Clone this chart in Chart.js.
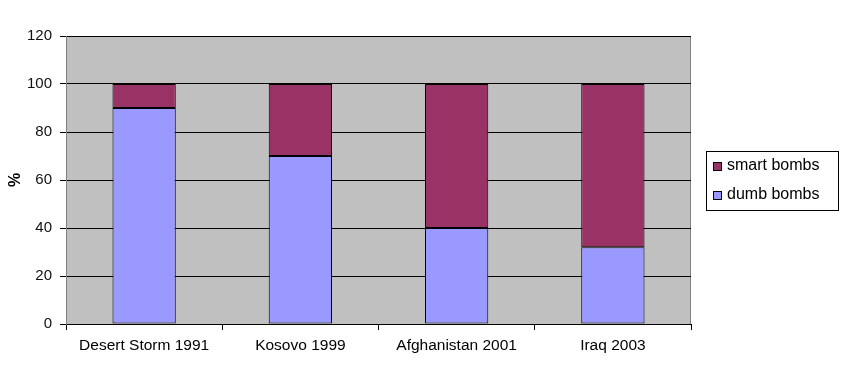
<!DOCTYPE html>
<html lang="en">
  <head>
    <meta charset="UTF-8" />
    <script src="https://cdn.jsdelivr.net/npm/chart.js@4/dist/chart.umd.min.js"></script>
    <title>Smart vs dumb bombs</title>
    <style>
      body { margin: 0; background: #fff; }
      #wrap { width: 850px; height: 387px; }
    </style>
  </head>
  <body>
    <div id="wrap">
      <canvas id="myChart" width="850" height="387"></canvas>
    </div>
    <script>
      const conflicts = ["Desert Storm 1991", "Kosovo 1999", "Afghanistan 2001", "Iraq 2003"];
      const dumbBombs = [90, 70, 40, 32];
      const smartBombs = [10, 30, 60, 68];
      const yTicks = [0, 20, 40, 60, 80, 100, 120];

      const FONT = "'Liberation Sans', Arial, sans-serif";

      // grey plot area with a grey frame, like the old Excel charts
      const plotArea = {
        id: "plotArea",
        beforeDraw(chart) {
          const a = chart.chartArea;
          const ctx = chart.ctx;
          ctx.save();
          ctx.fillStyle = "#c0c0c0";
          ctx.fillRect(a.left, a.top, a.right - a.left, a.bottom - a.top);
          ctx.strokeStyle = "#808080";
          ctx.lineWidth = 1;
          ctx.strokeRect(a.left + 0.5, a.top + 0.5, a.right - a.left - 1, a.bottom - a.top);
          ctx.restore();
        },
      };

      // boxed legend on the right
      const boxLegend = {
        id: "boxLegend",
        afterDraw(chart) {
          const ctx = chart.ctx;
          const x = 706, y = 151, w = 132, h = 59;
          ctx.save();
          ctx.fillStyle = "#fff";
          ctx.fillRect(x, y, w, h);
          ctx.strokeStyle = "#000";
          ctx.lineWidth = 1;
          ctx.strokeRect(x + 0.5, y + 0.5, w, h);
          const items = chart.data.datasets.slice().reverse();
          ctx.font = "16px " + FONT;
          ctx.textBaseline = "middle";
          items.forEach((ds, i) => {
            const cy = y + 15 + i * 29;
            ctx.fillStyle = ds.backgroundColor;
            ctx.fillRect(x + 7, cy - 4, 9, 9);
            ctx.strokeStyle = "#000";
            ctx.strokeRect(x + 7.5, cy - 3.5, 8, 8);
            ctx.fillStyle = "#000";
            ctx.fillText(ds.label, x + 21, cy);
          });
          ctx.restore();
        },
      };

      const config = {
        type: "bar",
        data: {
          labels: conflicts,
          datasets: [
            {
              label: "dumb bombs",
              data: dumbBombs,
              backgroundColor: "#9999ff",
              borderColor: "#000",
              borderWidth: 1,
              borderSkipped: false,
            },
            {
              label: "smart bombs",
              data: smartBombs,
              backgroundColor: "#993366",
              borderColor: "#000",
              borderWidth: 1,
              borderSkipped: false,
            },
          ],
        },
        options: {
          responsive: false,
          animation: false,
          layout: { padding: { left: 0, right: 159, top: 36, bottom: 0 } },
          datasets: { bar: { categoryPercentage: 1, barPercentage: 0.405 } },
          plugins: { legend: { display: false }, tooltip: { enabled: false } },
          scales: {
            x: {
              stacked: true,
              grid: {
                offset: true,
                drawOnChartArea: false,
                color: "#000",
                tickLength: 6,
              },
              border: { color: "#000" },
              ticks: { color: "#000", font: { family: FONT, size: 15.5 }, padding: 6 },
              afterFit(scale) { scale.height = 63; },
            },
            y: {
              stacked: true,
              min: 0,
              max: 120,
              afterBuildTicks(scale) { scale.ticks = yTicks.map((v) => ({ value: v })); },
              grid: { color: "#000", tickLength: 6 },
              border: { color: "#808080" },
              ticks: { color: "#111", font: { family: FONT, size: 15 }, padding: 8 },
              title: {
                display: true,
                text: "%",
                color: "#000",
                font: { family: FONT, size: 16, weight: "bold" },
                padding: { top: 6, bottom: 0 },
              },
              afterFit(scale) { scale.width = 66; },
            },
          },
        },
        plugins: [plotArea, boxLegend],
      };

      new Chart(document.getElementById("myChart"), config);
    </script>
  </body>
</html>
